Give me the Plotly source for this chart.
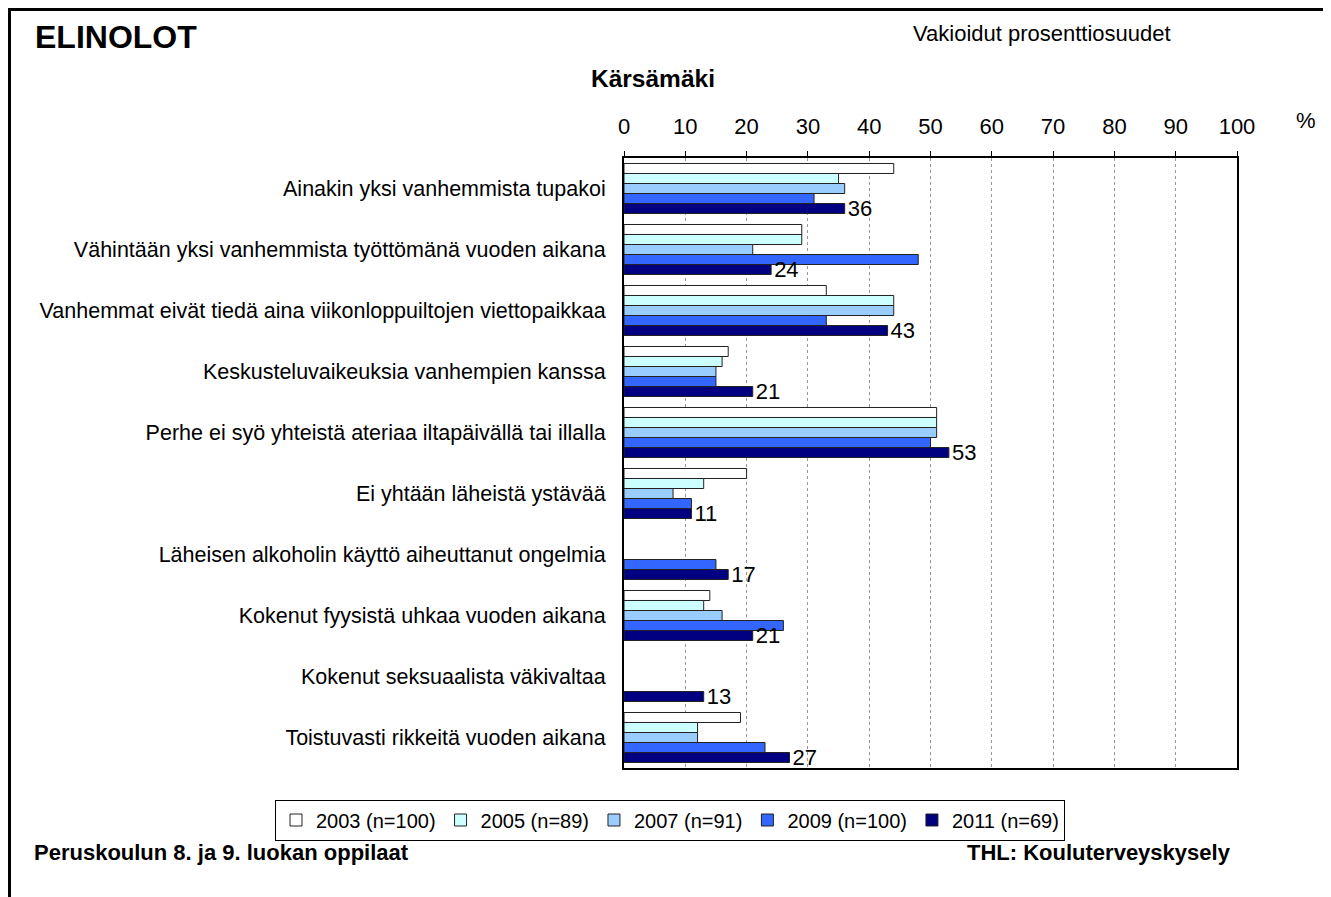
import plotly.graph_objects as go

# Categories (top to bottom)
categories = [
    "Ainakin yksi vanhemmista tupakoi",
    "Vähintään yksi vanhemmista työttömänä vuoden aikana",
    "Vanhemmat eivät tiedä aina viikonloppuiltojen viettopaikkaa",
    "Keskusteluvaikeuksia vanhempien kanssa",
    "Perhe ei syö yhteistä ateriaa iltapäivällä tai illalla",
    "Ei yhtään läheistä ystävää",
    "Läheisen alkoholin käyttö aiheuttanut ongelmia",
    "Kokenut fyysistä uhkaa vuoden aikana",
    "Kokenut seksuaalista väkivaltaa",
    "Toistuvasti rikkeitä vuoden aikana",
]

series_names = ["2003 (n=100)", "2005 (n=89)", "2007 (n=91)", "2009 (n=100)", "2011 (n=69)"]

values_2003 = [44, 29, 33, 17, 51, 20, None, 14, None, 19]
values_2005 = [35, 29, 44, 16, 51, 13, None, 13, None, 12]
values_2007 = [36, 21, 44, 15, 51, 8, None, 16, None, 12]
values_2009 = [31, 48, 33, 15, 50, 11, 15, 26, None, 23]
values_2011 = [36, 24, 43, 21, 53, 11, 17, 21, 13, 27]

series_values = [values_2003, values_2005, values_2007, values_2009, values_2011]
series_colors = ["#FFFFFF", "#CCFFFF", "#99CCFF", "#3366FF", "#000080"]

x_ticks = [0, 10, 20, 30, 40, 50, 60, 70, 80, 90, 100]

FONT = "Arial, Liberation Sans, sans-serif"

fig = go.Figure()

for name, vals, color in zip(series_names, series_values, series_colors):
    is_last = name.startswith("2011")
    fig.add_trace(go.Bar(
        name=name,
        y=categories,
        x=vals,
        orientation="h",
        marker=dict(color=color, line=dict(color="#222222", width=1)),
        text=[str(v) if v is not None else "" for v in vals] if is_last else None,
        textposition="outside" if is_last else "none",
        textfont=dict(size=22, color="black", family=FONT),
        constraintext="none",
        cliponaxis=False,
    ))

# page has an 8px body margin, so the figure is drawn 8px in from the corner
OFF = 8
W, H = 1323, 889
L, T = 624 - OFF, 158 - OFF
R = W - (1237 - OFF)
B = H - (768 - OFF)
PW = W - L - R
PH = H - T - B


def px_x(px):
    # page pixel -> paper x
    return (px - OFF - L) / PW


def px_y(py):
    # page pixel -> paper y
    return (H - B - (py - OFF)) / PH


annotations = [
    dict(text="<b>ELINOLOT</b>", x=px_x(33), y=px_y(37), xanchor="left", yanchor="middle",
         font=dict(size=32, color="black")),
    dict(text="<b>Kärsämäki</b>", x=px_x(653), y=px_y(78), xanchor="center", yanchor="middle",
         font=dict(size=24.5, color="black")),
    dict(text="Vakioidut prosenttiosuudet", x=px_x(1042), y=px_y(33), xanchor="center", yanchor="middle",
         font=dict(size=22, color="black")),
    dict(text="%", x=px_x(1306), y=px_y(120), xanchor="center", yanchor="middle",
         font=dict(size=22, color="black")),
    dict(text="<b>Peruskoulun 8. ja 9. luokan oppilaat</b>", x=px_x(32), y=px_y(852),
         xanchor="left", yanchor="middle", font=dict(size=22, color="black")),
    dict(text="<b>THL: Kouluterveyskysely</b>", x=px_x(1233), y=px_y(852),
         xanchor="right", yanchor="middle", font=dict(size=22, color="black")),
]
for a in annotations:
    a.update(xref="paper", yref="paper", showarrow=False)

fig.update_layout(
    width=W, height=H,
    margin=dict(l=L, r=R, t=T, b=B, autoexpand=False),
    paper_bgcolor="white",
    plot_bgcolor="white",
    font=dict(family=FONT, color="black", size=22),
    barmode="group",
    bargap=0.18,
    bargroupgap=0,
    xaxis=dict(
        side="top",
        range=[0, 100],
        tickvals=x_ticks,
        ticks="outside",
        ticklen=5,
        tickcolor="black",
        tickfont=dict(size=22),
        ticklabelstandoff=8,
        showline=True,
        linecolor="black",
        linewidth=2,
        mirror=True,
        showgrid=True,
        gridcolor="#999999",
        griddash="dot",
        gridwidth=1,
        zeroline=False,
        fixedrange=True,
    ),
    yaxis=dict(
        autorange="reversed",
        showline=True,
        linecolor="black",
        linewidth=2,
        mirror=True,
        ticks="",
        tickfont=dict(size=21.5),
        ticklabelstandoff=12,
        showgrid=False,
        fixedrange=True,
    ),
    legend=dict(
        orientation="h",
        x=px_x(275), xanchor="left",
        y=px_y(820), yanchor="middle",
        bordercolor="black",
        borderwidth=1,
        font=dict(size=20),
        traceorder="normal",
        itemwidth=30,
        tracegroupgap=0,
    ),
    annotations=annotations,
    shapes=[dict(
        type="rect", xref="paper", yref="paper",
        x0=px_x(OFF + 1.5), x1=px_x(1400), y0=px_y(1000), y1=px_y(OFF + 1.5),
        line=dict(color="black", width=3), fillcolor="rgba(0,0,0,0)",
        layer="below",
    )],
)

fig.write_html("out.html")
